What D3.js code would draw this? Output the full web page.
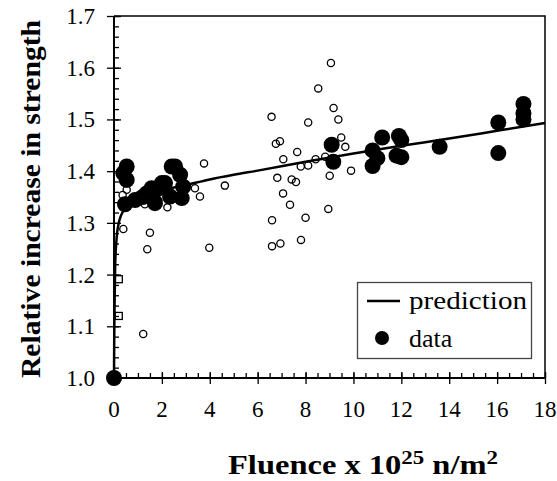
<!DOCTYPE html>
<html>
<head>
<meta charset="utf-8">
<script src="https://d3js.org/d3.v7.min.js"></script>
<style>
  body { margin: 0; background: #fff; }
</style>
</head>
<body>
<div id="chart"></div>
<script>
// prediction curve
const predX = [0, 0.01, 0.03, 0.05, 0.1, 0.2, 0.3, 0.5, 0.8, 1.2, 2, 3, 4, 5, 6, 8, 10, 12, 14, 16, 18];
const predY = [1.0, 1.08, 1.16, 1.22, 1.265, 1.30, 1.315, 1.33, 1.343, 1.352, 1.363, 1.373, 1.384, 1.393, 1.401, 1.418, 1.434, 1.449, 1.463, 1.478, 1.493];

// measured data (filled circles)
const dataX = [0, 0.39, 0.53, 0.53, 0.46, 0.88, 1.2, 1.36, 1.57, 1.71, 1.8, 2.0, 2.13, 2.34, 2.41, 2.55, 2.76, 2.83, 2.89,
  9.09, 9.16, 10.8, 10.8, 11.0, 11.2, 11.8, 11.9, 12.0, 12.0, 13.6, 16.05, 16.05, 17.1, 17.1, 17.1];
const dataY = [1.0, 1.396, 1.409, 1.383, 1.336, 1.344, 1.35, 1.357, 1.367, 1.338, 1.365, 1.377, 1.377, 1.351, 1.409, 1.409, 1.393, 1.348, 1.37,
  1.451, 1.418, 1.41, 1.44, 1.425, 1.465, 1.43, 1.468, 1.46, 1.427, 1.447, 1.494, 1.435, 1.53, 1.512, 1.50];

// other results (open circles)
const otherX = [9.06, 8.53, 9.17, 9.37, 6.58, 8.11, 9.49, 6.76, 6.93, 9.66, 7.65, 3.76, 7.07, 8.42, 8.82, 7.80, 8.11, 9.90, 9.01,
  6.82, 4.63, 7.42, 7.60, 7.06, 3.59, 8.95, 8.00, 7.81, 3.38, 0.36, 1.29, 1.85, 2.23, 0.39, 1.50, 1.39, 3.98, 1.22,
  6.6, 6.6, 6.95, 7.35, 0.53];
const otherY = [1.609, 1.560, 1.522, 1.500, 1.505, 1.494, 1.465, 1.453, 1.458, 1.447, 1.437, 1.415, 1.423, 1.423, 1.428, 1.409, 1.411, 1.401, 1.391,
  1.387, 1.372, 1.384, 1.379, 1.357, 1.351, 1.327, 1.310, 1.267, 1.367, 1.354, 1.336, 1.343, 1.330, 1.288, 1.281, 1.249, 1.252, 1.085,
  1.305, 1.255, 1.26, 1.335, 1.364];

// open squares near zero fluence
const squareX = [0.2, 0.2];
const squareY = [1.191, 1.12];

const xTicks = d3.range(0, 19, 2);
const yTicks = [1.0, 1.1, 1.2, 1.3, 1.4, 1.5, 1.6, 1.7];

const W = 557, H = 481;
const margin = { left: 114, right: 12, top: 16, bottom: 103 };
const FONT = "'Liberation Serif', 'Times New Roman', Times, serif";

const svg = d3.select("#chart").append("svg").attr("width", W).attr("height", H)
  .attr("font-family", FONT);

const x = d3.scaleLinear().domain([0, 18]).range([margin.left, W - margin.right]);
const y = d3.scaleLinear().domain([1.0, 1.7]).range([H - margin.bottom, margin.top]);

// frame (top and right)
svg.append("path")
  .attr("d", `M${x(0)},${y(1.7)}H${x(18)}V${y(1.0)}`)
  .attr("fill", "none").attr("stroke", "#000").attr("stroke-width", 1.5);

// minor ticks (inside)
svg.append("g").attr("transform", `translate(0,${y(1.0)})`)
  .call(d3.axisTop(x).tickValues(d3.range(0, 18.01, 0.5)).tickSize(5).tickFormat(""))
  .call(g => g.select(".domain").remove());
svg.append("g").attr("transform", `translate(${x(0)},0)`)
  .call(d3.axisRight(y).tickValues(d3.range(1.0, 1.701, 0.02)).tickSize(5).tickFormat(""))
  .call(g => g.select(".domain").remove());

// major ticks crossing axes
svg.append("g").attr("transform", `translate(0,${y(1.0) + 6})`)
  .call(d3.axisTop(x).tickValues(xTicks).tickSize(12).tickFormat(""))
  .call(g => g.select(".domain").remove());
svg.append("g").attr("transform", `translate(${x(0) - 7},0)`)
  .call(d3.axisRight(y).tickValues(yTicks).tickSize(14).tickFormat(""))
  .call(g => g.select(".domain").remove());
svg.selectAll(".tick line").attr("stroke-width", 1.3);

// axis lines
svg.append("path")
  .attr("d", `M${x(0)},${y(1.7)}V${y(1.0)}H${x(18)}`)
  .attr("fill", "none").attr("stroke", "#000").attr("stroke-width", 2);

// tick labels
svg.append("g").selectAll("text").data(xTicks).join("text")
  .attr("x", d => x(d)).attr("y", y(1.0) + 39)
  .attr("text-anchor", "middle").attr("font-size", 23)
  .text(d => d);
svg.append("g").selectAll("text").data(yTicks).join("text")
  .attr("x", x(0) - 19).attr("y", d => y(d) + 8)
  .attr("text-anchor", "end").attr("font-size", 23)
  .text(d => d.toFixed(1));

// axis titles
svg.append("text")
  .attr("transform", `translate(40,${(y(1.0) + y(1.7)) / 2 + 2}) rotate(-90)`)
  .attr("text-anchor", "middle").attr("font-size", 27).attr("font-weight", "bold")
  .attr("textLength", 358).attr("lengthAdjust", "spacingAndGlyphs")
  .text("Relative increase in strength");
const xt = svg.append("text")
  .attr("x", 228).attr("y", 474)
  .attr("font-size", 27).attr("font-weight", "bold")
  .attr("textLength", 270).attr("lengthAdjust", "spacingAndGlyphs");
xt.append("tspan").text("Fluence x 10");
xt.append("tspan").attr("dy", -10).attr("font-size", 19).text("25");
xt.append("tspan").attr("dy", 10).text(" n/m");
xt.append("tspan").attr("dy", -10).attr("font-size", 19).text("2");

// open circles
svg.append("g").selectAll("circle").data(otherX.map((d, i) => [d, otherY[i]])).join("circle")
  .attr("cx", d => x(d[0])).attr("cy", d => y(d[1])).attr("r", 3.6)
  .attr("fill", "none").attr("stroke", "#000").attr("stroke-width", 1.3);

// open squares
svg.append("g").selectAll("rect").data(squareX.map((d, i) => [d, squareY[i]])).join("rect")
  .attr("x", d => x(d[0]) - 3.5).attr("y", d => y(d[1]) - 3.5)
  .attr("width", 7).attr("height", 7)
  .attr("fill", "none").attr("stroke", "#000").attr("stroke-width", 1.3);

// prediction
const line = d3.line().x(d => x(d[0])).y(d => y(d[1])).curve(d3.curveMonotoneX);
svg.append("path").datum(predX.map((d, i) => [d, predY[i]]))
  .attr("d", line).attr("fill", "none").attr("stroke", "#000").attr("stroke-width", 2.5);

// data
svg.append("g").selectAll("circle").data(dataX.map((d, i) => [d, dataY[i]])).join("circle")
  .attr("cx", d => x(d[0])).attr("cy", d => y(d[1])).attr("r", 8)
  .attr("fill", "#000");

// legend
const lg = svg.append("g");
lg.append("rect").attr("x", 357.5).attr("y", 282.5).attr("width", 174).attr("height", 76)
  .attr("fill", "#fff").attr("stroke", "#444").attr("stroke-width", 1.3);
lg.append("line").attr("x1", 367).attr("x2", 400).attr("y1", 301).attr("y2", 301)
  .attr("stroke", "#000").attr("stroke-width", 2.5);
lg.append("text").attr("x", 409).attr("y", 309).attr("font-size", 26)
  .attr("textLength", 118).attr("lengthAdjust", "spacingAndGlyphs").text("prediction");
lg.append("circle").attr("cx", 382).attr("cy", 338).attr("r", 7).attr("fill", "#000");
lg.append("text").attr("x", 409).attr("y", 347).attr("font-size", 26).text("data");
</script>
</body>
</html>
